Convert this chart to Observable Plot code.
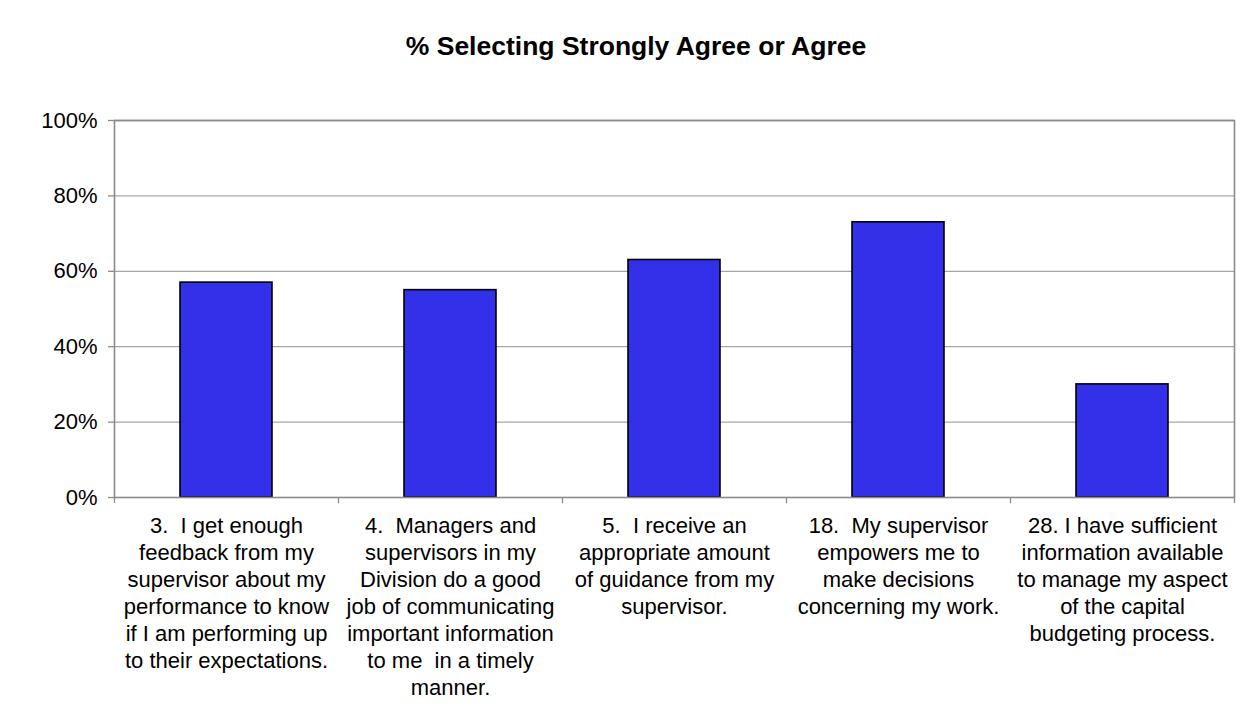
<!DOCTYPE html>
<html>
<head>
<meta charset="utf-8">
<script src="https://cdn.jsdelivr.net/npm/d3@7"></script>
<script src="https://cdn.jsdelivr.net/npm/@observablehq/plot@0.6"></script>
<style>
  html, body { margin: 0; padding: 0; background: #fff; }
  #title { height: 80px; box-sizing: border-box; padding-top: 30px; text-align: center;
           font-family: "Liberation Sans", Arial, sans-serif; font-weight: bold; font-size: 26.5px; color: #000;
           width: 1272px; line-height: 32px; }
  #chart svg { display: block; }
</style>
</head>
<body>
<div id="title">% Selecting Strongly Agree or Agree</div>
<div id="chart"></div>
<script>
const categories = [
  "3.  I get enough\nfeedback from my\nsupervisor about my\nperformance to know\nif I am performing up\nto their expectations.",
  "4.  Managers and\nsupervisors in my\nDivision do a good\njob of communicating\nimportant information\nto me  in a timely\nmanner.",
  "5.  I receive an\nappropriate amount\nof guidance from my\nsupervisor.",
  "18.  My supervisor\nempowers me to\nmake decisions\nconcerning my work.",
  "28. I have sufficient\ninformation available\nto manage my aspect\nof the capital\nbudgeting process."
];
const values = [0.57, 0.55, 0.63, 0.73, 0.30];
const yTicks = [0, 0.2, 0.4, 0.6, 0.8, 1.0];

const data = categories.map((c, i) => ({category: c, value: values[i]}));

const chart = Plot.plot({
  width: 1248,
  height: 641,
  marginTop: 40,
  marginLeft: 114,
  marginRight: 14,
  marginBottom: 224,
  style: {fontFamily: "'Liberation Sans', Arial, sans-serif", fontSize: "22px", color: "#000", background: "#fff"},
  x: {domain: categories, paddingInner: 0.59, paddingOuter: 0.295, label: null},
  y: {domain: [0, 1], label: null},
  marks: [
    Plot.ruleY(yTicks.slice(1), {stroke: "#a6a6a6", strokeWidth: 1.3}),
    Plot.barY(data, {x: "category", y: "value", fill: "#3330ea", stroke: "#000", strokeWidth: 1.6}),
    Plot.frame({stroke: "#8a8a8a", strokeWidth: 1.6}),
    Plot.axisY({ticks: yTicks, tickFormat: d3.format(".0%"), tickSize: 6, tickPadding: 11, stroke: "#8a8a8a", strokeWidth: 1.3, fontSize: 22}),
    Plot.axisX({tickSize: 6, tickFormat: () => "", dx: -112, stroke: "#8a8a8a", strokeWidth: 1.3}),
    Plot.axisX({ticks: [categories[categories.length - 1]], tickSize: 6, tickFormat: () => "", dx: 112, stroke: "#8a8a8a", strokeWidth: 1.3}),
    Plot.axisX({tickSize: 0, tickPadding: 16, lineHeight: 1.23, fontSize: 22, textOverflow: null})
  ]
});
document.getElementById("chart").appendChild(chart);
</script>
</body>
</html>
